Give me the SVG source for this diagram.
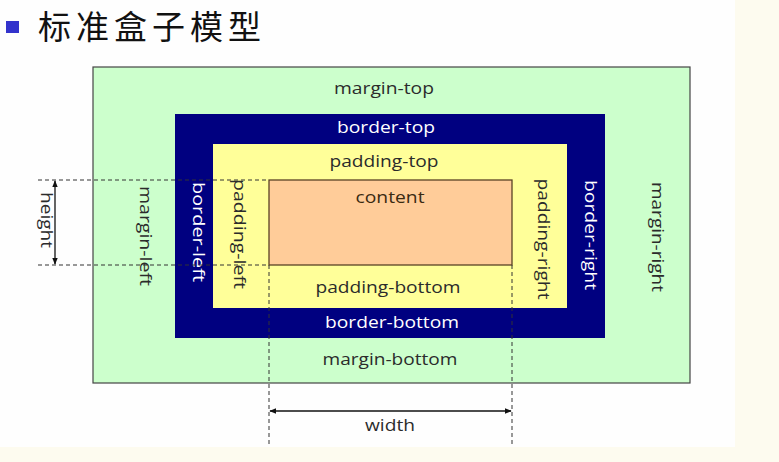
<svg xmlns="http://www.w3.org/2000/svg" width="779" height="462" viewBox="0 0 779 462">
<defs>
<style>
.lbl{font-family:"Open Sans","Noto Sans","Liberation Sans",sans-serif;font-size:17px;fill:#2b2b2b;text-anchor:middle}
.wh{fill:#fff}
.dash{stroke:#333;stroke-width:1;stroke-dasharray:4 3;fill:none}
.arr{stroke:#111;stroke-width:1.3;fill:none;marker-start:url(#ah);marker-end:url(#ah)}
</style>
<marker id="ah" viewBox="0 0 10 10" refX="9" refY="5" markerWidth="7" markerHeight="7" orient="auto-start-reverse" markerUnits="userSpaceOnUse">
<path d="M0,1 L10,5 L0,9 z" fill="#111"/>
</marker>
</defs>
<rect x="0" y="0" width="779" height="462" fill="#fefefe"/>
<rect x="735" y="0" width="44" height="462" fill="#fdfbef"/>
<rect x="0" y="447" width="779" height="15" fill="#fdfbef"/>
<g id="title">
<rect x="6" y="21" width="13" height="12" fill="#3333cc"/>
<text x="38" y="39" style="font-family:'Noto Sans CJK SC',sans-serif;font-size:33px;fill:#111;letter-spacing:5px">标准盒子模型</text>
</g>
<g id="margin">
<rect x="93" y="67" width="597" height="316" fill="#ccffcc" stroke="#444" stroke-width="1.2"/>
<text class="lbl" x="384" y="94" textLength="100" lengthAdjust="spacingAndGlyphs">margin-top</text>
<text class="lbl" x="390" y="365" textLength="135" lengthAdjust="spacingAndGlyphs">margin-bottom</text>
<text class="lbl" transform="translate(146,236) rotate(90)" dominant-baseline="central" textLength="100" lengthAdjust="spacingAndGlyphs">margin-left</text>
<text class="lbl" transform="translate(658,237) rotate(90)" dominant-baseline="central" textLength="110" lengthAdjust="spacingAndGlyphs">margin-right</text>
</g>
<g id="border">
<rect x="175" y="114" width="430" height="224" fill="#000080"/>
<text class="lbl wh" x="386" y="133" textLength="98" lengthAdjust="spacingAndGlyphs">border-top</text>
<text class="lbl wh" x="392" y="328" textLength="134" lengthAdjust="spacingAndGlyphs">border-bottom</text>
<text class="lbl wh" transform="translate(199,232) rotate(90)" dominant-baseline="central" textLength="100" lengthAdjust="spacingAndGlyphs">border-left</text>
<text class="lbl wh" transform="translate(591,235) rotate(90)" dominant-baseline="central" textLength="110" lengthAdjust="spacingAndGlyphs">border-right</text>
</g>
<g id="padding">
<rect x="213" y="144" width="354" height="164" fill="#ffff99"/>
<text class="lbl" x="384" y="167" textLength="109" lengthAdjust="spacingAndGlyphs">padding-top</text>
<text class="lbl" x="388" y="293" textLength="145" lengthAdjust="spacingAndGlyphs">padding-bottom</text>
<text class="lbl" transform="translate(240,234) rotate(90)" dominant-baseline="central" textLength="110" lengthAdjust="spacingAndGlyphs">padding-left</text>
<text class="lbl" transform="translate(544,239) rotate(90)" dominant-baseline="central" textLength="121" lengthAdjust="spacingAndGlyphs">padding-right</text>
</g>
<g id="content">
<rect x="269" y="180" width="243" height="85" fill="#ffcc99" stroke="#5a4326" stroke-width="1.3"/>
<text class="lbl" x="390" y="203" style="fill:#3a2a12" textLength="69" lengthAdjust="spacingAndGlyphs">content</text>
</g>
<g id="connectors">
<line class="dash" x1="38" y1="180" x2="269" y2="180"/>
<line class="dash" x1="38" y1="265" x2="269" y2="265"/>
<line class="dash" x1="269" y1="265" x2="269" y2="445"/>
<line class="dash" x1="512" y1="265" x2="512" y2="445"/>
<line class="arr" x1="55" y1="181" x2="55" y2="264"/>
<line class="arr" x1="270" y1="411" x2="511" y2="411"/>
</g>
<g id="dims">
<text class="lbl" transform="translate(47,220) rotate(90)" dominant-baseline="central" textLength="56" lengthAdjust="spacingAndGlyphs">height</text>
<text class="lbl" x="390" y="431" textLength="50" lengthAdjust="spacingAndGlyphs">width</text>
</g>
</svg>
